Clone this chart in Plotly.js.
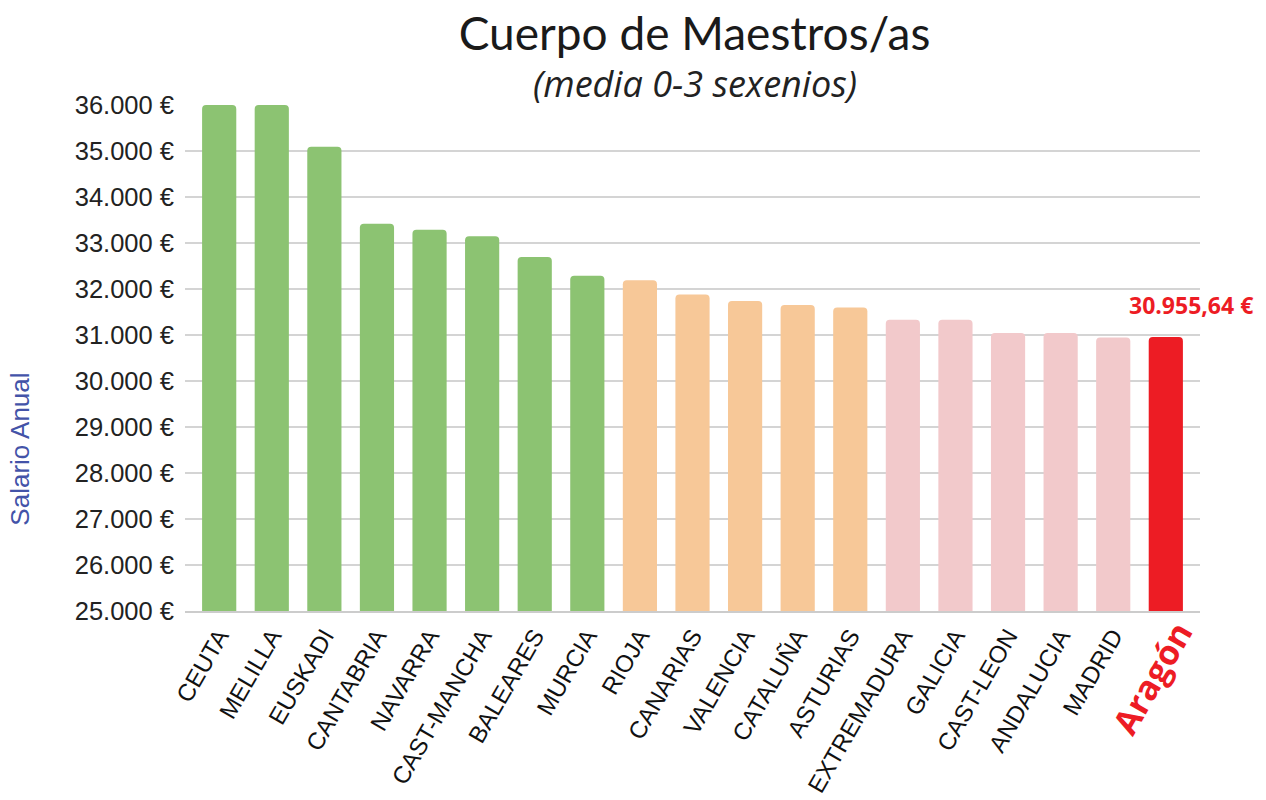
<!DOCTYPE html>
<html>
<head>
<meta charset="utf-8">
<script src="https://cdn.plot.ly/plotly-3.0.1.min.js"></script>
<style>html,body{margin:0;padding:0;background:#fff;}#chart{width:1266px;height:800px;}</style>
</head>
<body>
<div id="chart"></div>
<script>
const categories = ['CEUTA','MELILLA','EUSKADI','CANTABRIA','NAVARRA','CAST-MANCHA','BALEARES','MURCIA','RIOJA','CANARIAS','VALENCIA','CATALUÑA','ASTURIAS','EXTREMADURA','GALICIA','CAST-LEON','ANDALUCIA','MADRID','Aragón'];
const salaries = [36000, 36000, 35090, 33420, 33290, 33145, 32696, 32290, 32190, 31880, 31738, 31652, 31600, 31330, 31330, 31045, 31045, 30945, 30955.64];
const groups = ['g','g','g','g','g','g','g','g','o','o','o','o','o','p','p','p','p','p','r'];
const groupColors = {g:'#8cc372', o:'#f7c898', p:'#f2c9cb', r:'#ed1c24'};
const highlightLabel = '30.955,64 €';
const highlightIndex = categories.indexOf('Aragón');

const idx = categories.map((c,i)=>i);
const tickText = categories.map((c,i) => i === highlightIndex ? '' : c);

const trace = {
  type:'bar', x: idx, y: salaries,
  marker:{color: groups.map(g=>groupColors[g]), cornerradius:4},
  hoverinfo:'skip'
};

const layout = {
  width:1266, height:800,
  margin:{l:185, r:66, t:105, b:189},
  paper_bgcolor:'#fff', plot_bgcolor:'#fff',
  separators:',.',
  bargap:0.35,
  showlegend:false,
  title:{text:'Cuerpo de Maestros/as', font:{family:'Lato', size:46, color:'#1a1a1a'},
         x:0.502, xanchor:'center', xref:'paper', y:0.958, yanchor:'middle', yref:'container'},
  xaxis:{range:[-0.65,18.65], tickmode:'array', tickvals: idx, ticktext: tickText, tickangle:-60,
         tickfont:{family:'Liberation Sans, Arial', size:24, color:'#111'},
         showgrid:false, zeroline:false, showline:true, linecolor:'#cccccc', linewidth:1.5, ticks:''},
  yaxis:{range:[25000,36000], tickmode:'linear', tick0:25000, dtick:1000, tickformat:',.0f', ticksuffix:' €',
         tickfont:{family:'Liberation Sans, Arial', size:25.5, color:'#222'},
         showgrid:true, gridcolor:'#d4d4d4', gridwidth:1.5, zeroline:false, ticks:'', ticklabelstandoff:10},
  annotations:[
    {text:'<i>(media 0-3 sexenios)</i>', xref:'paper', yref:'paper', x:0.502, y:1.043, xanchor:'center', yanchor:'middle',
     showarrow:false, font:{family:'Open Sans', size:36, color:'#222'}},
    {text:'Salario Anual', xref:'paper', yref:'paper', x:-0.162, y:0.32, xanchor:'center', yanchor:'middle',
     textangle:-90, showarrow:false, font:{family:'Liberation Sans, Arial', size:26, color:'#4353a8'}},
    {text:'<b>'+highlightLabel+'</b>', x:highlightIndex, y:salaries[highlightIndex], xref:'x', yref:'y', xanchor:'center', yanchor:'bottom',
     xshift:25, yshift:14, showarrow:false, font:{family:'Open Sans', size:23, color:'#ed1c24'}},
    {text:'<b>'+categories[highlightIndex]+'</b>', x:highlightIndex, y:0, xref:'x', yref:'paper', xanchor:'center', yanchor:'middle',
     xshift:-14, yshift:-67, textangle:-60, showarrow:false, font:{family:'Open Sans', size:34, color:'#ed1c24'}}
  ]
};

Plotly.newPlot('chart',[trace],layout,{displayModeBar:false, staticPlot:true});
</script>
</body>
</html>
